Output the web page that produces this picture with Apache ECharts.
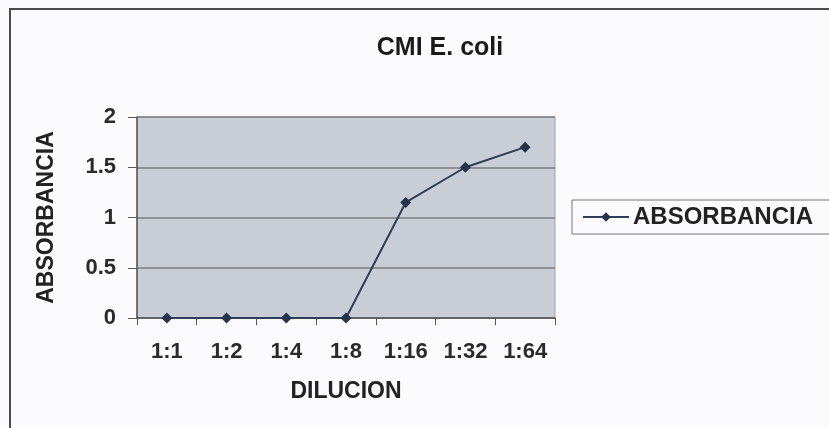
<!DOCTYPE html>
<html>
<head>
<meta charset="utf-8">
<script src="https://cdn.jsdelivr.net/npm/echarts@6/dist/echarts.min.js"></script>
<style>
  html, body { margin: 0; padding: 0; background: #fbfbfd; }
  #chart { width: 829px; height: 428px; }
</style>
</head>
<body>
<div id="chart"></div>
<script>
// categorias y valores
var diluciones = ['1:1', '1:2', '1:4', '1:8', '1:16', '1:32', '1:64'];
var absorbancia = [0, 0, 0, 0, 1.15, 1.5, 1.7];
var yTicks = [0, 0.5, 1, 1.5, 2];

var chart = echarts.init(document.getElementById('chart'));

var option = {
    backgroundColor: '#fbfbfd',
    animation: false,
    textStyle: { fontFamily: 'Liberation Sans, Arial, sans-serif' },
    title: {
        text: 'CMI E. coli',
        left: 435,
        top: 31,
        textAlign: 'center',
        textStyle: { fontSize: 25, fontWeight: 'bold', color: '#1a1a1a' }
    },
    graphic: [{
        type: 'rect',
        shape: { x: 10, y: 9, width: 830, height: 430 },
        style: { fill: 'none', stroke: '#4a4a4a', lineWidth: 2 }
    }],
    legend: {
        left: 572,
        top: 200,
        padding: [5, 40, 5, 10],
        borderColor: '#777',
        borderWidth: 1,
        itemWidth: 46,
        itemHeight: 12,
        itemGap: 6,
        textStyle: { fontSize: 24, color: '#222', fontWeight: 'bold', padding: [0, 0, 0, -1] },
        data: ['ABSORBANCIA']
    },
    grid: {
        left: 137,
        top: 117,
        right: 274,
        bottom: 110,
        show: true,
        backgroundColor: '#c9cdd6',
        borderColor: '#a0a2a8',
        borderWidth: 1
    },
    xAxis: {
        type: 'category',
        data: diluciones,
        boundaryGap: true,
        name: 'DILUCION',
        nameLocation: 'middle',
        nameGap: 62,
        nameTextStyle: { fontSize: 23, fontWeight: 'bold', color: '#222' },
        axisLine: { lineStyle: { color: '#555', width: 1.5 } },
        axisTick: { show: true, length: 7, lineStyle: { color: '#555' } },
        axisLabel: { fontSize: 22, fontWeight: 'bold', color: '#2a2a2a', margin: 23 },
        splitLine: { show: false }
    },
    yAxis: {
        type: 'value',
        min: 0,
        max: 2,
        interval: 0.5,
        name: 'ABSORBANCIA',
        nameLocation: 'middle',
        nameGap: 79,
        nameTextStyle: { fontSize: 23, fontWeight: 'bold', color: '#222' },
        axisLine: { show: true, lineStyle: { color: '#555', width: 1.5 } },
        axisTick: { show: true, length: 9, lineStyle: { color: '#555' } },
        axisLabel: {
            fontSize: 22, fontWeight: 'bold', color: '#2a2a2a', margin: 21,
            formatter: function (v) { return yTicks.indexOf(v) >= 0 ? String(v) : ''; }
        },
        splitLine: { show: true, lineStyle: { color: '#7b7d82', width: 1.5 } }
    },
    series: [{
        name: 'ABSORBANCIA',
        type: 'line',
        data: absorbancia,
        symbol: 'diamond',
        symbolSize: 11,
        itemStyle: { color: '#26334d' },
        lineStyle: { color: '#2e3d58', width: 2 }
    }]
};

chart.setOption(option);
</script>
</body>
</html>
